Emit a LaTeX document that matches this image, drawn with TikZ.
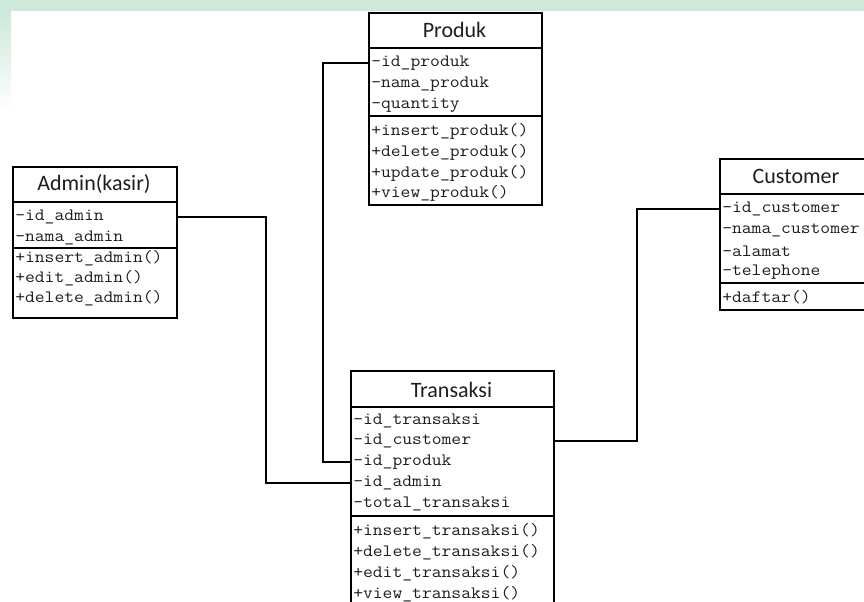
\documentclass[tikz,border=0pt]{standalone}
\usepackage{fontspec}
\newfontfamily\ttlfont{Carlito}
\newfontfamily\rowfontfam{Latin Modern Mono}[FakeStretch=1.1]
\newlength\upx \setlength\upx{0.75pt}
\definecolor{wmgreen}{HTML}{CDE9DA}
\definecolor{txt}{HTML}{1E1E1E}
\tikzset{
  cls/.style={draw=black, line width=1.7pt, inner sep=0pt, anchor=north west, fill=white},
  sepline/.style={line width=1.5pt},
  ttl/.style={font=\ttlfont\fontsize{16.5}{18}\selectfont, text=txt, inner sep=0pt},
  row/.style={font=\rowfontfam\fontsize{13}{14}\selectfont, text=txt, anchor=west, inner sep=0pt},
  link/.style={draw=black, line width=1.8pt}
}
\begin{document}
\begin{tikzpicture}[x=0.75pt, y=-0.75pt]
\useasboundingbox (0,0) rectangle (864,602);
\clip (0,0) rectangle (864,602);
\fill[white] (0,0) rectangle (864,602);
\fill[wmgreen] (0,0) rectangle (864,11);
\shade[top color=wmgreen, bottom color=white] (0,11) rectangle (11,112);

% ---------- Produk ----------
\node[cls, minimum width=173\upx, minimum height=192\upx] (produk) at (368,12) {};
\draw[sepline] (produk.north west) ++(0,36) -- ++(173,0);
\draw[sepline] (produk.north west) ++(0,104) -- ++(173,0);
\node[ttl] (produkT) at (454.5,30) {Produk};
\node[row] (pA1) at (371,63) {-id\_produk};
\node[row] (pA2) at (371,84) {-nama\_produk};
\node[row] (pA3) at (371,105) {-quantity};
\node[row] (pM1) at (371,131) {+insert\_produk()};
\node[row] (pM2) at (371,152) {+delete\_produk()};
\node[row] (pM3) at (371,173) {+update\_produk()};
\node[row] (pM4) at (371,193) {+view\_produk()};

% ---------- Admin ----------
\node[cls, minimum width=164\upx, minimum height=151\upx] (admin) at (12,166) {};
\draw[sepline] (admin.north west) ++(0,36) -- ++(164,0);
\draw[sepline] (admin.north west) ++(0,82) -- ++(164,0);
\node[ttl] (adminT) at (94,184) {Admin(kasir)};
\node[row] (aA1) at (15,217) {-id\_admin};
\node[row] (aA2) at (15,238) {-nama\_admin};
\node[row] (aM1) at (15,258) {+insert\_admin()};
\node[row] (aM2) at (15,278) {+edit\_admin()};
\node[row] (aM3) at (15,298) {+delete\_admin()};

% ---------- Customer ----------
\node[cls, minimum width=154\upx, minimum height=151\upx] (customer) at (719,158) {};
\draw[sepline] (customer.north west) ++(0,36) -- ++(154,0);
\draw[sepline] (customer.north west) ++(0,125) -- ++(154,0);
\node[ttl] (customerT) at (796,176) {Customer};
\node[row] (cA1) at (722,209) {-id\_customer};
\node[row] (cA2) at (722,230) {-nama\_customer};
\node[row] (cA3) at (722,251) {-alamat};
\node[row] (cA4) at (722,272) {-telephone};
\node[row] (cM1) at (722,297) {+daftar()};

% ---------- Transaksi ----------
\node[cls, minimum width=203\upx, minimum height=270\upx] (transaksi) at (350,370) {};
\draw[sepline] (transaksi.north west) ++(0,37) -- ++(203,0);
\draw[sepline] (transaksi.north west) ++(0,146) -- ++(203,0);
\node[ttl] (transaksiT) at (451.5,390) {Transaksi};
\node[row] (tA1) at (353,421) {-id\_transaksi};
\node[row] (tA2) at (353,441) {-id\_customer};
\node[row] (tA3) at (353,462) {-id\_produk};
\node[row] (tA4) at (353,483) {-id\_admin};
\node[row] (tA5) at (353,504) {-total\_transaksi};
\node[row] (tM1) at (353,531) {+insert\_transaksi()};
\node[row] (tM2) at (353,552) {+delete\_transaksi()};
\node[row] (tM3) at (353,573) {+edit\_transaksi()};
\node[row] (tM4) at (353,594) {+view\_transaksi()};

% ---------- Connectors ----------
\draw[link] (produk.west |- pA1) -- ++(-45,0) |- (transaksi.west |- tA3);
\draw[link] (admin.east |- aA1) -- ++(88,0) |- (transaksi.west |- tA4);
\draw[link] (customer.west |- cA1) -- ++(-82,0) |- (transaksi.east |- tA2);
\end{tikzpicture}
\end{document}
